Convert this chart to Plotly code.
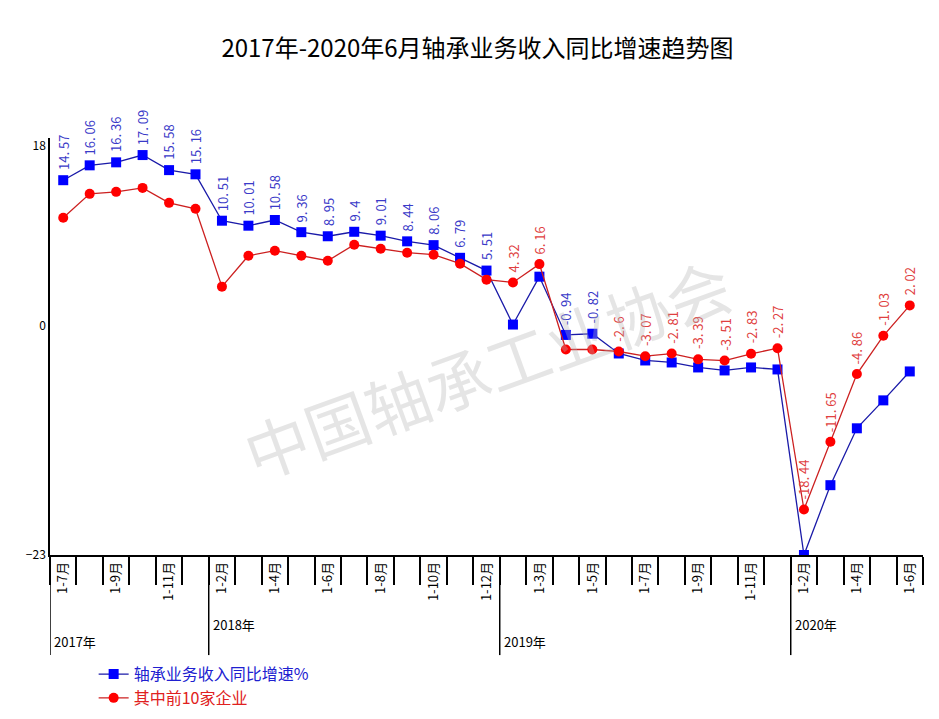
import plotly.graph_objects as go

years = ["2017年", "2018年", "2019年", "2020年"]
months = {
    "2017年": ["1-7月", "1-8月", "1-9月", "1-10月", "1-11月", "1-12月"],
    "2018年": ["1-2月", "1-3月", "1-4月", "1-5月", "1-6月", "1-7月", "1-8月", "1-9月", "1-10月", "1-11月", "1-12月"],
    "2019年": ["1-2月", "1-3月", "1-4月", "1-5月", "1-6月", "1-7月", "1-8月", "1-9月", "1-10月", "1-11月", "1-12月"],
    "2020年": ["1-2月", "1-3月", "1-4月", "1-5月", "1-6月"],
}
blue = [14.57, 16.06, 16.36, 17.09, 15.58, 15.16,
        10.51, 10.01, 10.58, 9.36, 8.95, 9.4, 9.01, 8.44, 8.06, 6.79, 5.51,
        0.1, 4.9, -0.94, -0.82, -2.8, -3.5, -3.7, -4.2, -4.5, -4.2, -4.4,
        -23.0, -16.0, -10.3, -7.5, -4.6]
red = [10.8, 13.2, 13.4, 13.8, 12.3, 11.7,
       3.9, 7.0, 7.5, 7.0, 6.5, 8.1, 7.7, 7.3, 7.1, 6.2, 4.6,
       4.32, 6.16, -2.4, -2.4, -2.6, -3.07, -2.81, -3.39, -3.51, -2.83, -2.27,
       -18.44, -11.65, -4.86, -1.03, 2.02]
blue_label_idx = list(range(0, 17)) + [19, 20]
red_label_idx = [17, 18] + list(range(21, 33))

cats = []
group_start = []
for y in years:
    group_start.append(len(cats))
    cats += [(y, m) for m in months[y]]
x = list(range(len(cats)))
tickvals = x[::2]
ticktext = [cats[i][1] for i in tickvals]

fig = go.Figure()
fig.add_trace(go.Scatter(x=x, y=blue, mode="lines+markers",
                         name="<span style='color:#2020d0'>轴承业务收入同比增速%</span>",
                         line=dict(color="#1a1aa8", width=1.3),
                         marker=dict(symbol="square", size=10, color="#0000ff")))
fig.add_trace(go.Scatter(x=x, y=red, mode="lines+markers",
                         name="<span style='color:#e02020'>其中前10家企业</span>",
                         line=dict(color="#cc2020", width=1.3),
                         marker=dict(symbol="circle", size=10, color="#ff0000")))

ann = []
for i in blue_label_idx:
    ann.append(dict(x=x[i], y=blue[i], xref="x", yref="y", text=f"{blue[i]:g}".replace(".", ". "),
                    textangle=-90, showarrow=False, yanchor="bottom", yshift=8,
                    font=dict(color="#3a3ac8", size=13)))
for i in red_label_idx:
    ann.append(dict(x=x[i], y=red[i], xref="x", yref="y", text=f"{red[i]:g}".replace(".", ". "),
                    textangle=-90, showarrow=False, yanchor="bottom", yshift=8,
                    font=dict(color="#e04040", size=13)))
shapes = []
for gi, y in zip(group_start, years):
    lab = {0: -0.235, 6: -0.195, 17: -0.235, 28: -0.195}[gi]
    shapes.append(dict(type="line", xref="x", yref="paper", x0=gi - 0.5, x1=gi - 0.5,
                       y0=0, y1=-0.24, line=dict(color="black", width=1.5)))
    ann.append(dict(x=gi - 0.5, y=lab, xref="x", yref="paper", text=y, showarrow=False,
                    xanchor="left", yanchor="bottom", xshift=2, font=dict(size=13, color="black")))
ann.append(dict(x=0.5, y=0.45, xref="paper", yref="paper", text="中国轴承工业协会", showarrow=False,
                textangle=-20, font=dict(size=64, color="rgba(180,180,180,0.35)")))

fig.update_layout(
    width=939, height=719, plot_bgcolor="white", paper_bgcolor="white",
    margin=dict(l=42, r=24, t=130, b=162),
    font=dict(family="Noto Sans CJK SC", color="black"),
    title=dict(text="2017年-2020年6月轴承业务收入同比增速趋势图", x=0.5, y=0.955,
               font=dict(size=24, color="black")),
    xaxis=dict(range=[-0.5, len(cats) - 0.5], tickvals=tickvals, ticktext=ticktext, tickangle=-90,
               ticks="", showgrid=False, showline=True, linecolor="black", linewidth=1.5,
               tickfont=dict(size=13), zeroline=False, automargin=False,
               minor=dict(tick0=0.5, dtick=1, ticks="outside", ticklen=28, tickcolor="black", tickwidth=1.5)),
    yaxis=dict(range=[-23, 18.8], tickvals=[-23, 0, 18], showgrid=False, zeroline=False, automargin=False,
               showline=True, linecolor="black", linewidth=1.5, ticks="", tickfont=dict(size=12)),
    legend=dict(orientation="h", x=0.05, y=-0.245, xanchor="left", yanchor="top",
                entrywidth=400, entrywidthmode="pixels", font=dict(size=16)),
    annotations=ann, shapes=shapes,
)
fig.write_html("out.html")
